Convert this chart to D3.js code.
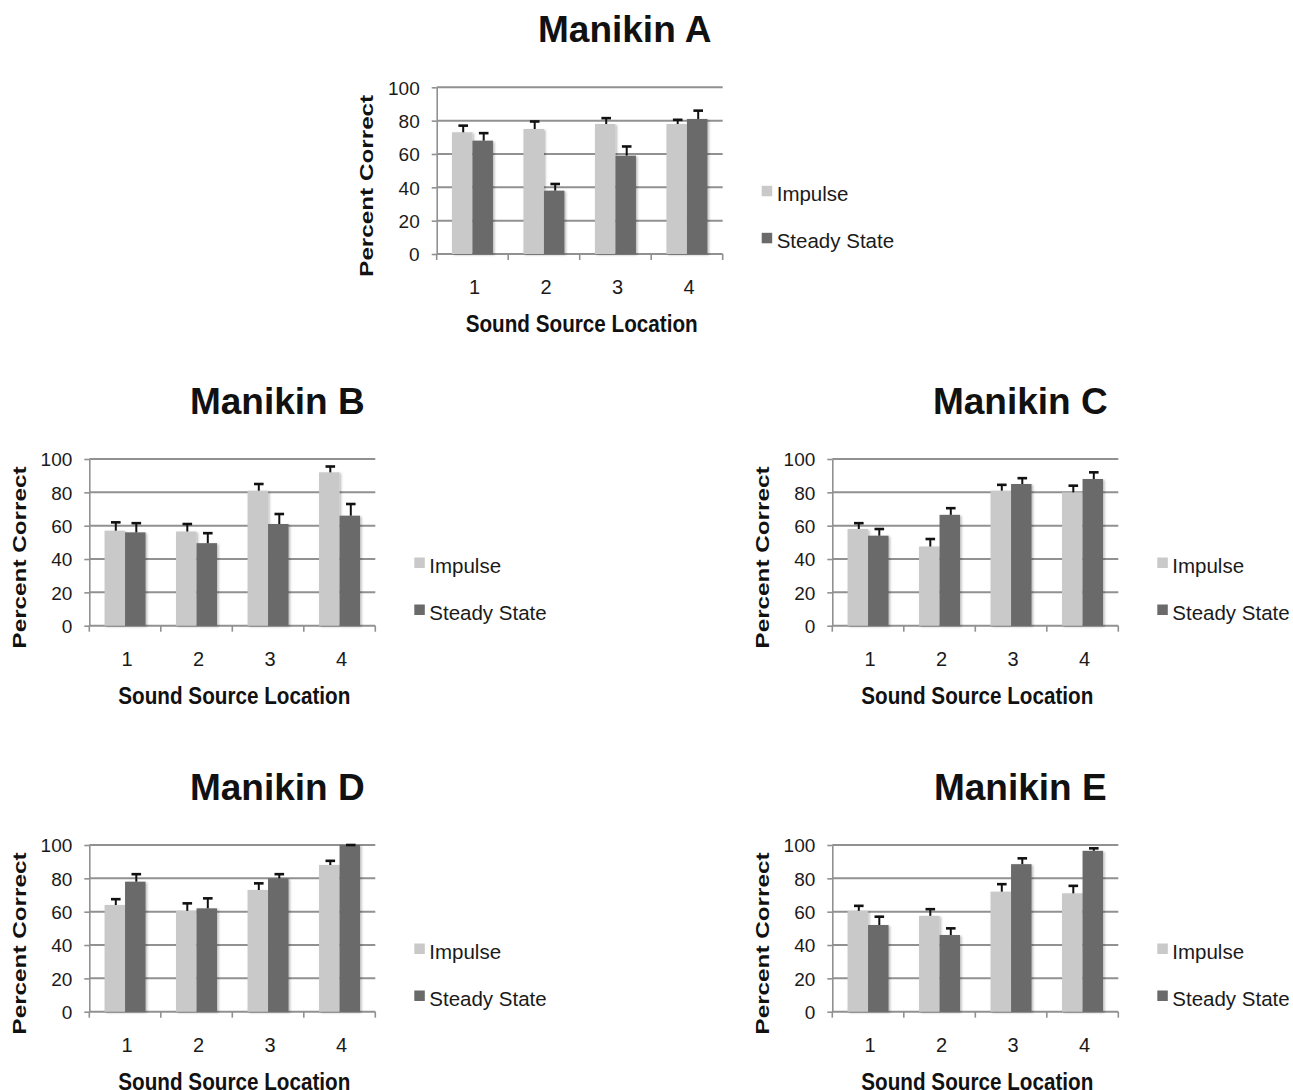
<!DOCTYPE html>
<html>
<head>
<meta charset="utf-8">
<script src="https://cdn.jsdelivr.net/npm/d3@7"></script>
<style>
  html, body { margin: 0; padding: 0; background: #ffffff; }
  svg { display: block; font-family: "Liberation Sans", Arial, Helvetica, sans-serif; }
</style>
</head>
<body>
<script>
// Sound source locations and stimulus types
const categories = ["1", "2", "3", "4"];
const series = ["Impulse", "Steady State"];
const yTicks = [0, 20, 40, 60, 80, 100];
const panelTitles = ["Manikin A", "Manikin B", "Manikin C", "Manikin D", "Manikin E"];

// Percent correct (mean) and error-bar length per location
const impulseA = [73, 75, 78, 78];
const impulseErrA = [4, 4.5, 3.5, 2.5];
const steadyA = [68, 38, 59, 81];
const steadyErrA = [4.5, 4, 5.5, 5];

const impulseB = [57, 56.5, 81, 92];
const impulseErrB = [5, 4.5, 4, 3.5];
const steadyB = [56, 49.5, 61, 66];
const steadyErrB = [5.5, 6, 6, 7];

const impulseC = [58, 47.5, 81, 80];
const impulseErrC = [3.5, 4.5, 3.5, 4];
const steadyC = [54, 66.5, 85, 88];
const steadyErrC = [4, 4, 3.5, 4];

const impulseD = [64, 60.5, 73, 88];
const impulseErrD = [3.5, 4.5, 4, 2.5];
const steadyD = [78, 62, 80, 100];
const steadyErrD = [4.5, 6, 2.5, 0];

const impulseE = [60.5, 57.5, 72, 71];
const impulseErrE = [3, 4, 4.5, 4.5];
const steadyE = [52, 46, 88.5, 96.5];
const steadyErrE = [5, 4, 3.5, 1.5];

const panelData = [
  [impulseA, impulseErrA, steadyA, steadyErrA],
  [impulseB, impulseErrB, steadyB, steadyErrB],
  [impulseC, impulseErrC, steadyC, steadyErrC],
  [impulseD, impulseErrD, steadyD, steadyErrD],
  [impulseE, impulseErrE, steadyE, steadyErrE]
];

const colors = { "Impulse": "#c9c9c9", "Steady State": "#6a6a6a" };

const W = 1293, H = 1090;
const plotW = 286, plotH = 166.7;
// top-left corner of each plot area
const origins = [[436.7, 87.3], [89.3, 459], [832.3, 459], [89.3, 845], [832.3, 845]];

const svg = d3.select("body").append("svg")
  .attr("width", W).attr("height", H)
  .attr("viewBox", `0 0 ${W} ${H}`);

svg.append("rect").attr("width", W).attr("height", H).attr("fill", "#ffffff");

const defs = svg.append("defs");
const shadow = defs.append("filter").attr("id", "barShadow")
  .attr("x", "-30%").attr("y", "-10%").attr("width", "160%").attr("height", "130%");
shadow.append("feDropShadow")
  .attr("dx", 1.5).attr("dy", 1).attr("stdDeviation", 1.3)
  .attr("flood-color", "#000").attr("flood-opacity", 0.28);

const gridColor = "#919191";

function drawPanel(title, data, origin) {
  const [ox, oy] = origin;
  const g = svg.append("g").attr("transform", `translate(${ox},${oy})`);

  const y = d3.scaleLinear().domain([0, 100]).range([plotH, 0]);
  const x0 = d3.scaleBand().domain(categories).range([0, plotW]);
  const x1 = d3.scaleBand().domain(series).range([0, x0.bandwidth()]).paddingOuter(0.744);

  // horizontal gridlines
  g.append("g").selectAll("line")
    .data(yTicks.filter(t => t > 0))
    .join("line")
    .attr("x1", 0).attr("x2", plotW)
    .attr("y1", d => y(d)).attr("y2", d => y(d))
    .attr("stroke", gridColor).attr("stroke-width", 2);

  // y axis
  const yAxis = g.append("g")
    .call(d3.axisLeft(y).tickValues(yTicks).tickSize(5).tickSizeOuter(0).tickPadding(12));
  yAxis.select(".domain").attr("stroke", gridColor).attr("stroke-width", 1.6);
  yAxis.selectAll(".tick line").attr("stroke", gridColor).attr("stroke-width", 1.6);
  yAxis.selectAll(".tick text")
    .attr("fill", "#1a1a1a")
    .style("font-size", "19px")
    .attr("dy", "0.36em");

  // x axis line with ticks at category boundaries
  g.append("line")
    .attr("x1", 0).attr("x2", plotW)
    .attr("y1", plotH).attr("y2", plotH)
    .attr("stroke", gridColor).attr("stroke-width", 2);
  const bounds = categories.map(c => x0(c)).concat([plotW]);
  g.append("g").selectAll("line")
    .data(bounds)
    .join("line")
    .attr("x1", d => d).attr("x2", d => d)
    .attr("y1", plotH).attr("y2", plotH + 6)
    .attr("stroke", gridColor).attr("stroke-width", 1.6);

  // category labels
  g.append("g").selectAll("text")
    .data(categories)
    .join("text")
    .attr("x", d => x0(d) + x0.bandwidth() / 2 + 2)
    .attr("y", plotH + 40)
    .attr("text-anchor", "middle")
    .attr("fill", "#1a1a1a")
    .style("font-size", "20px")
    .text(d => d);

  // bars
  const rows = [];
  categories.forEach((c, i) => {
    rows.push({ cat: c, s: "Impulse", v: data[0][i], e: data[1][i] });
    rows.push({ cat: c, s: "Steady State", v: data[2][i], e: data[3][i] });
  });

  g.append("g").attr("filter", "url(#barShadow)")
    .selectAll("rect")
    .data(rows)
    .join("rect")
    .attr("x", d => x0(d.cat) + x1(d.s))
    .attr("y", d => y(d.v))
    .attr("width", x1.bandwidth())
    .attr("height", d => plotH - y(d.v))
    .attr("fill", d => colors[d.s]);

  // upper error bars
  const eb = g.append("g").selectAll("g")
    .data(rows)
    .join("g")
    .attr("transform", d => `translate(${x0(d.cat) + x1(d.s) + x1.bandwidth() / 2 + 1},0)`);
  eb.append("line")
    .attr("x1", 0).attr("x2", 0)
    .attr("y1", d => y(d.v)).attr("y2", d => y(d.v + d.e))
    .attr("stroke", "#111").attr("stroke-width", 2);
  eb.append("line")
    .attr("x1", -4.8).attr("x2", 4.8)
    .attr("y1", d => y(d.v + d.e)).attr("y2", d => y(d.v + d.e))
    .attr("stroke", "#111").attr("stroke-width", 2.6);

  // titles
  g.append("text")
    .attr("x", 188).attr("y", -45)
    .attr("text-anchor", "middle")
    .attr("fill", "#111")
    .style("font-size", "37px").style("font-weight", "bold")
    .text(title);

  g.append("text")
    .attr("x", 145).attr("y", plotH + 78)
    .attr("text-anchor", "middle")
    .attr("fill", "#111")
    .style("font-size", "23px").style("font-weight", "bold")
    .attr("textLength", 232).attr("lengthAdjust", "spacingAndGlyphs")
    .text("Sound Source Location");

  g.append("text")
    .attr("transform", `translate(-63.5,${98.5}) rotate(-90)`)
    .attr("text-anchor", "middle")
    .attr("fill", "#111")
    .style("font-size", "18.5px").style("font-weight", "bold")
    .attr("textLength", 182).attr("lengthAdjust", "spacingAndGlyphs")
    .text("Percent Correct");

  // legend
  const lg = g.append("g").attr("transform", `translate(325,0)`);
  series.forEach((s, i) => {
    const base = 114 + i * 47;
    lg.append("rect")
      .attr("x", 0).attr("y", base - 15.5)
      .attr("width", 10.5).attr("height", 10.5)
      .attr("fill", colors[s]);
    lg.append("text")
      .attr("x", 15).attr("y", base)
      .attr("fill", "#1a1a1a")
      .style("font-size", "20.5px")
      .text(s);
  });
}

panelTitles.forEach((t, i) => drawPanel(t, panelData[i], origins[i]));
</script>
</body>
</html>
